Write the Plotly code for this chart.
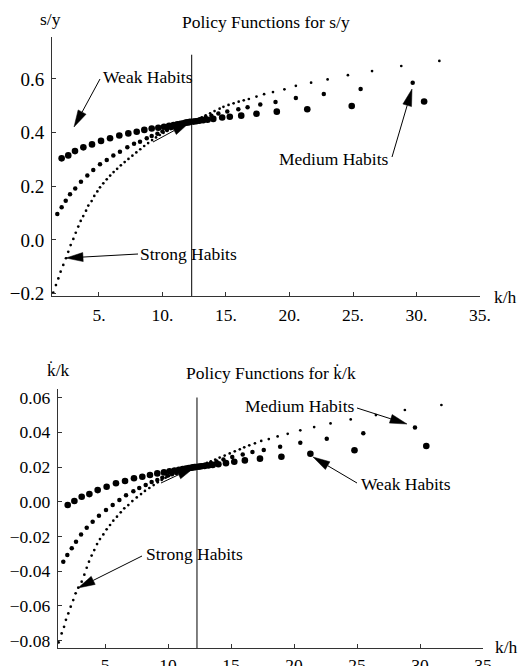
import math
import plotly.graph_objects as go

W, H = 521, 666
FONT = "Liberation Serif"

# ---------------- data: s/y panel ----------------
sy_weak_kh = [2.06, 2.58, 3.11, 3.77, 4.45, 5.16, 5.87, 6.60, 7.31, 7.97, 8.57, 9.15, 9.67,
              10.12, 10.52, 10.87, 11.17, 11.43, 11.65, 11.83, 11.98, 12.10, 12.20,
              12.45, 12.65, 12.90, 13.20, 13.55, 14.00, 14.70, 15.30, 16.20, 17.40, 19.00,
              21.40, 24.90, 30.60]
sy_weak = [0.304, 0.315, 0.331, 0.345, 0.356, 0.369, 0.379, 0.389, 0.397, 0.403, 0.410, 0.415, 0.418,
           0.422, 0.425, 0.428, 0.431, 0.433, 0.435, 0.437, 0.438, 0.439, 0.440,
           0.441, 0.442, 0.444, 0.446, 0.448, 0.451, 0.456, 0.459, 0.463, 0.470, 0.478,
           0.487, 0.499, 0.516]

sy_medium_kh = [1.72, 2.06, 2.38, 2.72, 3.13, 3.58, 4.08, 4.55, 5.08, 5.61, 6.13, 6.65, 7.23, 7.76,
                8.23, 8.76, 9.15, 9.60, 10.00, 10.35, 10.70, 11.00, 11.30, 11.55, 11.75, 11.95,
                12.10, 12.20,
                12.45, 12.70, 13.00, 13.40, 13.85, 14.40, 15.10, 15.97, 16.70, 17.70, 18.90,
                20.50, 22.70, 25.60, 29.70]
sy_medium = [0.097, 0.122, 0.146, 0.170, 0.192, 0.217, 0.240, 0.261, 0.282, 0.298, 0.315, 0.329,
             0.345, 0.358, 0.366, 0.379, 0.387, 0.396, 0.404, 0.411, 0.417, 0.422, 0.427, 0.431,
             0.434, 0.437, 0.439, 0.440,
             0.443, 0.446, 0.451, 0.457, 0.463, 0.471, 0.479, 0.487, 0.494, 0.505, 0.514,
             0.529, 0.544, 0.562, 0.586]

sy_strong_kh = [1.40, 1.61, 1.80, 1.98, 2.19, 2.40, 2.58, 2.77, 2.98, 3.17, 3.37, 3.56, 3.76, 3.98,
                4.16, 4.42, 4.63, 4.87, 5.08, 5.34, 5.61, 5.88, 6.15, 6.43, 6.72, 7.02, 7.32,
                7.63, 7.94, 8.25, 8.56, 8.87, 9.18, 9.49, 9.79, 10.08, 10.36, 10.63, 10.88,
                11.12, 11.34, 11.54, 11.72, 11.88, 12.02, 12.14, 12.24,
                12.40, 12.60, 12.85, 13.10, 13.40, 13.75, 14.10, 14.50, 14.80, 15.20, 15.60,
                16.00, 16.40, 16.80, 17.40, 18.00, 18.70, 19.60, 20.50, 21.70, 23.00, 24.60,
                26.50, 28.80, 31.80]
sy_strong = [-0.196, -0.168, -0.143, -0.118, -0.093, -0.068, -0.044, -0.019, 0.004, 0.027, 0.050,
             0.071, 0.089, 0.109, 0.128, 0.145, 0.164, 0.181, 0.196, 0.211, 0.226, 0.240, 0.253,
             0.265, 0.278, 0.290, 0.302, 0.314, 0.326, 0.338, 0.350, 0.361, 0.372, 0.382, 0.391,
             0.399, 0.406, 0.413, 0.419, 0.424, 0.428, 0.432, 0.435, 0.437, 0.439, 0.440, 0.441,
             0.442, 0.446, 0.451, 0.457, 0.464, 0.472, 0.480, 0.489, 0.496, 0.503, 0.509,
             0.515, 0.520, 0.525, 0.534, 0.543, 0.551, 0.561, 0.574, 0.586, 0.598, 0.614,
             0.629, 0.648, 0.667]

# ---------------- data: k-dot/k panel ----------------
kk_weak_kh = [2.04, 2.57, 3.15, 3.76, 4.42, 5.13, 5.87, 6.59, 7.30, 7.96, 8.57, 9.15, 9.68,
              10.12, 10.52, 10.87, 11.17, 11.43, 11.65, 11.83, 11.98, 12.10, 12.20,
              12.45, 12.65, 12.90, 13.20, 13.55, 14.00, 14.60, 15.26, 16.10, 17.30, 19.00,
              21.30, 24.80, 30.50]
kk_weak = [-0.0019, 0.0004, 0.0029, 0.0044, 0.0067, 0.0086, 0.0106, 0.0119, 0.0135, 0.0144,
           0.0154, 0.0163, 0.0169, 0.0175, 0.0180, 0.0184, 0.0188, 0.0191, 0.0194, 0.0196,
           0.0198, 0.0199, 0.0200,
           0.0202, 0.0204, 0.0206, 0.0209, 0.0212, 0.0216, 0.0222, 0.0230, 0.0238, 0.0248,
           0.0259, 0.0276, 0.0296, 0.0321]

kk_medium_kh = [1.69, 2.01, 2.36, 2.70, 3.10, 3.55, 4.02, 4.52, 5.08, 5.61, 6.14, 6.67, 7.25,
                7.72, 8.23, 8.70, 9.15, 9.55, 9.95, 10.32, 10.66, 10.97, 11.25, 11.50, 11.72,
                11.90, 12.05, 12.18,
                12.45, 12.70, 13.00, 13.40, 13.85, 14.40, 15.10, 15.93, 16.70, 17.60, 18.90,
                20.50, 22.60, 25.50, 29.60]
kk_medium = [-0.0345, -0.0307, -0.0268, -0.0230, -0.0188, -0.0150, -0.0115, -0.0080, -0.0048,
             -0.0019, 0.0010, 0.0037, 0.0060, 0.0079, 0.0096, 0.0113, 0.0125, 0.0138, 0.0149,
             0.0158, 0.0166, 0.0173, 0.0179, 0.0184, 0.0189, 0.0193, 0.0196, 0.0199,
             0.0204, 0.0208, 0.0214, 0.0222, 0.0231, 0.0243, 0.0257, 0.0272, 0.0286, 0.0298,
             0.0317, 0.0340, 0.0363, 0.0394, 0.0428]

kk_strong_kh = [1.32, 1.56, 1.75, 1.90, 2.09, 2.28, 2.48, 2.67, 2.88, 3.15, 3.36, 3.55, 3.73,
                3.94, 4.15, 4.37, 4.60, 4.87, 5.13, 5.40, 5.66, 5.95, 6.25, 6.53, 6.85, 7.17,
                7.52, 7.86, 8.17, 8.52, 8.86, 9.18, 9.50, 9.81, 10.10, 10.40, 10.70, 10.95,
                11.20, 11.42, 11.62, 11.80, 11.96, 12.10, 12.20,
                12.40, 12.60, 12.85, 13.10, 13.40, 13.75, 14.10, 14.50, 14.90, 15.30, 15.70,
                16.05, 16.45, 16.90, 17.40, 18.00, 18.70, 19.50, 20.50, 21.60, 22.90, 24.50,
                26.50, 28.80, 31.70]
kk_strong = [-0.0810, -0.0758, -0.0720, -0.0680, -0.0643, -0.0604, -0.0566, -0.0527, -0.0495,
             -0.0460, -0.0420, -0.0380, -0.0345, -0.0310, -0.0278, -0.0244, -0.0215, -0.0188,
             -0.0159, -0.0134, -0.0109, -0.0086, -0.0061, -0.0038, -0.0019, 0.0004, 0.0025,
             0.0044, 0.0062, 0.0079, 0.0096, 0.0112, 0.0125, 0.0138, 0.0149, 0.0160, 0.0169,
             0.0177, 0.0184, 0.0189, 0.0193, 0.0196, 0.0198, 0.0200, 0.0201,
             0.0203, 0.0209, 0.0216, 0.0224, 0.0233, 0.0243, 0.0254, 0.0266, 0.0278, 0.0290,
             0.0302, 0.0313, 0.0325, 0.0336, 0.0350, 0.0361, 0.0376, 0.0391, 0.0411, 0.0430,
             0.0451, 0.0474, 0.0499, 0.0528, 0.0557]

steady_state_kh = 12.3

x_ticks = [5, 10, 15, 20, 25, 30, 35]
x_ticktext_top = ["5.", "10.", "15.", "20.", "25.", "30.", "35."]
x_ticktext_bot = ["5", "10", "15", "20", "25", "30", "35"]
sy_ticks = [-0.2, 0.0, 0.2, 0.4, 0.6]
sy_ticktext = ["\u22120.2", "0.0", "0.2", "0.4", "0.6"]
kk_ticks = [-0.08, -0.06, -0.04, -0.02, 0.0, 0.02, 0.04, 0.06]
kk_ticktext = ["\u22120.08", "\u22120.06", "\u22120.04", "\u22120.02", "0.00", "0.02", "0.04", "0.06"]

# ---------------- figure ----------------
fig = go.Figure()

SIZES = {"weak": 6.6, "medium": 4.5, "strong": 2.7}

def add_series(xs, ys, size, xa, ya, name):
    fig.add_trace(go.Scatter(x=xs, y=ys, mode="markers", name=name, xaxis=xa, yaxis=ya,
                             marker=dict(size=size, color="black", line=dict(width=0)),
                             hoverinfo="skip"))

add_series(sy_weak_kh, sy_weak, SIZES["weak"], "x", "y", "Weak Habits")
add_series(sy_medium_kh, sy_medium, SIZES["medium"], "x", "y", "Medium Habits")
add_series(sy_strong_kh, sy_strong, SIZES["strong"], "x", "y", "Strong Habits")
add_series(kk_weak_kh, kk_weak, SIZES["weak"], "x2", "y2", "Weak Habits")
add_series(kk_medium_kh, kk_medium, SIZES["medium"], "x2", "y2", "Medium Habits")
add_series(kk_strong_kh, kk_strong, SIZES["strong"], "x2", "y2", "Strong Habits")

axis_common = dict(showgrid=False, zeroline=False, showline=True, linecolor="#333", linewidth=1,
                   ticks="inside", ticklen=4, tickcolor="#333", tickwidth=1,
                   automargin=False, fixedrange=True)

top_x_range = [1.30, 35.0]
top_y_range = [-0.2086, 0.756]
bot_x_range = [1.246, 35.0]
bot_y_range = [-0.0842, 0.0649]

fig.update_layout(
    width=W, height=H, margin=dict(l=0, r=0, t=0, b=0),
    paper_bgcolor="white", plot_bgcolor="white", showlegend=False,
    font=dict(family=FONT, color="black", size=17),
    xaxis=dict(axis_common, domain=[52 / W, 480 / W], range=top_x_range, anchor="y",
               tickvals=x_ticks, ticktext=x_ticktext_top, tickfont=dict(size=17.5),
               ticklabelstandoff=3),
    yaxis=dict(axis_common, domain=[1 - 296 / H, 1 - 37 / H], range=top_y_range, anchor="x",
               tickvals=sy_ticks, ticktext=sy_ticktext, tickfont=dict(size=19),
               ticklabelstandoff=3),
    xaxis2=dict(axis_common, domain=[57.7 / W, 483 / W], range=bot_x_range, anchor="y2",
                tickvals=x_ticks, ticktext=x_ticktext_bot, tickfont=dict(size=17.5),
                ticklabelstandoff=1),
    yaxis2=dict(axis_common, domain=[1 - 648 / H, 1 - 389 / H], range=bot_y_range, anchor="x2",
                tickvals=kk_ticks, ticktext=kk_ticktext, tickfont=dict(size=17.5),
                ticklabelstandoff=3),
)

# steady-state vertical lines
fig.add_shape(type="line", xref="x", yref="y", x0=steady_state_kh, x1=steady_state_kh,
              y0=top_y_range[0], y1=0.69, line=dict(color="black", width=1))
fig.add_shape(type="line", xref="x2", yref="y2", x0=steady_state_kh, x1=steady_state_kh,
              y0=bot_y_range[0], y1=0.06, line=dict(color="black", width=1))


def text_px(txt, px, py, size=17.5):
    fig.add_annotation(text=txt, x=px / W, y=1 - py / H, xref="paper", yref="paper",
                       showarrow=False, xanchor="center", yanchor="middle",
                       font=dict(family=FONT, size=size, color="black"))


def arrow_px(tail, tip, L=16, hw=4.2):
    tx, ty = tail
    hx, hy = tip
    d = math.hypot(hx - tx, hy - ty)
    ux, uy = (hx - tx) / d, (hy - ty) / d
    bx, by = hx - L * ux, hy - L * uy
    px_, py_ = -uy, ux
    lx, ly = bx + hw * px_, by + hw * py_
    rx, ry = bx - hw * px_, by - hw * py_
    cv = lambda x, y: (x / W, 1 - y / H)
    a, b = cv(tx, ty)
    c, e = cv(bx, by)
    fig.add_shape(type="line", xref="paper", yref="paper", x0=a, y0=b, x1=c, y1=e,
                  line=dict(color="black", width=1))
    p1, p2, p3 = cv(hx, hy), cv(lx, ly), cv(rx, ry)
    fig.add_shape(type="path", xref="paper", yref="paper",
                  path=f"M{p1[0]},{p1[1]} L{p2[0]},{p2[1]} L{p3[0]},{p3[1]} Z",
                  fillcolor="black", line=dict(color="black", width=0.5))


# ---- top panel text ----
text_px("s/y", 50, 19)
text_px("Policy Functions for s/y", 266, 22)
text_px("k/h", 505, 297)
text_px("Weak Habits", 147.5, 77)
text_px("Strong Habits", 188.5, 254)
text_px("Medium Habits", 334, 159)
arrow_px((100, 79), (74, 127), L=17, hw=4.5)
arrow_px((138, 254), (66, 258), L=17, hw=4.5)
arrow_px((392, 157), (412, 89), L=17, hw=4.5)
arrow_px((153, 142), (190, 122), L=18, hw=4.5)

# ---- bottom panel text ----
text_px("k\u0307/k", 58.5, 370)
text_px("Policy Functions for k\u0307/k", 271, 373)
text_px("k/h", 506.5, 647)
text_px("Medium Habits", 300, 406)
text_px("Weak Habits", 405.5, 484)
text_px("Strong Habits", 194.7, 554)
arrow_px((357, 408), (407, 424), L=17, hw=4.5)
arrow_px((357, 483), (313, 457), L=17, hw=4.5)
arrow_px((142, 556), (78, 588), L=17, hw=4.5)
arrow_px((161, 483), (195, 467), L=18, hw=4.5)

fig.write_html("out.html")
